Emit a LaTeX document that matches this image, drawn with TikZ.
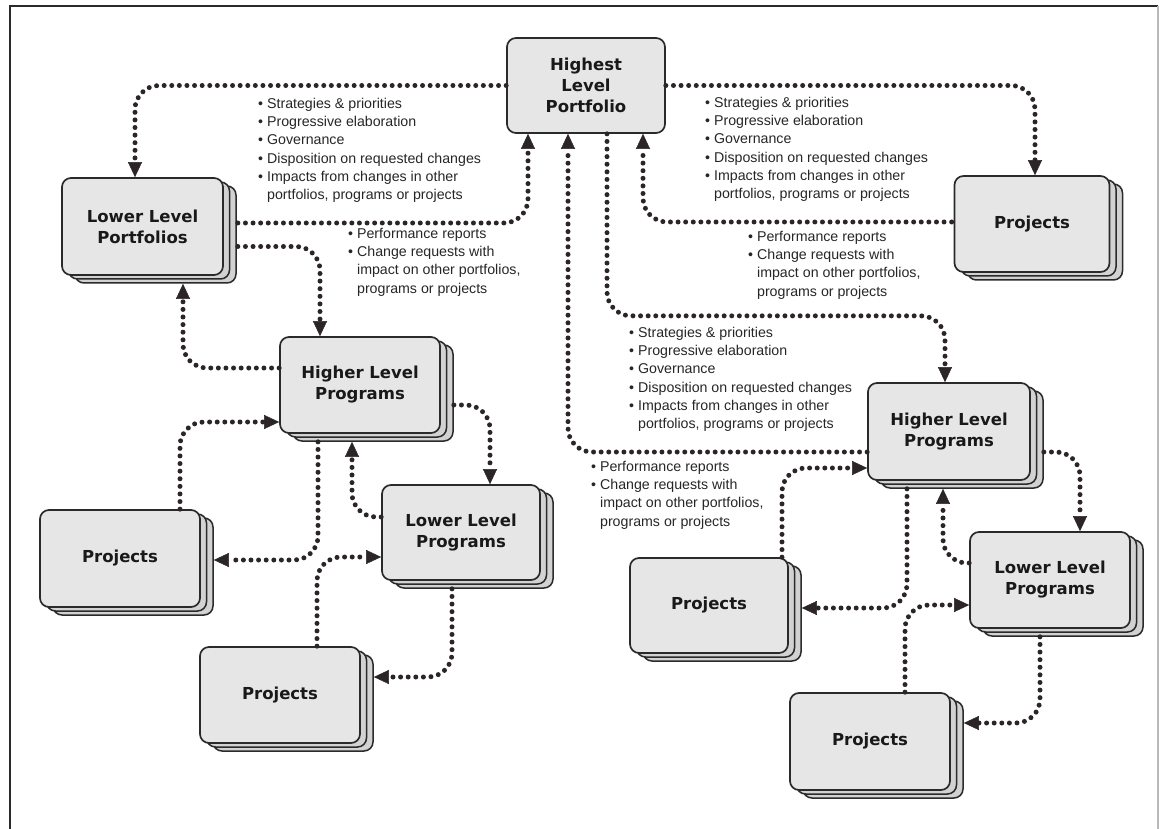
\documentclass[tikz,border=0pt]{standalone}
\usepackage{fontspec}
\setmainfont{Liberation Sans}
\newfontfamily\boxfont{DejaVu Sans}
\usetikzlibrary{arrows.meta,shadows}
\definecolor{ink}{HTML}{2B2528}
\definecolor{boxfill}{HTML}{E6E6E6}
\definecolor{backfill}{HTML}{D2D2D2}
\definecolor{edge}{HTML}{2A2A2A}
\definecolor{txtcol}{HTML}{262626}
\newcommand\bul{\textbullet\ }
\newcommand\ind{\phantom{\textbullet\ }}
\begin{document}
\begin{tikzpicture}[x=1pt,y=-1pt,
  card/.style={rectangle, rounded corners=9pt, draw=edge, line width=1.7pt, fill=boxfill,
    minimum width=160pt, minimum height=96pt, inner sep=0pt, align=center,
    font=\boxfont\bfseries\fontsize{16.5}{21}\selectfont, text=black!90},
  stack/.style={card, double copy shadow={shadow xshift=6.5pt, shadow yshift=-4pt,
    fill=backfill, draw=edge, line width=1.5pt}},
  conn/.style={draw=ink, line width=5pt, line cap=round, dash pattern=on 0pt off 7.6pt,
    rounded corners=24pt, -{Triangle[length=15pt,width=14pt,line width=0.4pt]}},
  txt/.style={font=\fontsize{14.2}{18.2}\selectfont, align=left, inner sep=0pt,
    anchor=north west, text=txtcol}]
\useasboundingbox (0,0) rectangle (1160,829);
% frame
\draw[edge, line width=1.8pt] (10,829) -- (10,6) -- (1158,6);
\draw[gray!55, line width=1.2pt] (1158,6) -- (1158,829);

% boxes
\node[card, minimum width=158pt, minimum height=95pt] (hport) at (586,85.5) {Highest\\Level\\Portfolio};
\node[stack, minimum width=161pt, minimum height=97pt] (lport) at (142.5,226.5) {Lower Level\\Portfolios};
\node[stack, minimum width=155pt] (projTR) at (1032,224) {Projects};
\node[stack] (hprogL) at (360,385) {Higher Level\\Programs};
\node[stack, minimum width=158pt, minimum height=95pt] (lprogL) at (461,532.5) {Lower Level\\Programs};
\node[stack, minimum height=97pt] (projL1) at (120,558.5) {Projects};
\node[stack] (projL2) at (280,695) {Projects};
\node[stack, minimum width=162pt, minimum height=97pt] (hprogR) at (949,431.5) {Higher Level\\Programs};
\node[stack] (lprogR) at (1050,580) {Lower Level\\Programs};
\node[stack, minimum width=158pt, minimum height=95pt] (projR1) at (709,605.5) {Projects};
\node[stack, minimum height=97pt] (projR2) at (870,741.5) {Projects};

% top level connectors
\draw[conn] (hport.west) -| ([xshift=-7.5pt]lport.north);
\draw[conn] (hport.east) -| ([xshift=3pt]projTR.north);
\draw[conn] ([xshift=14pt,yshift=3.5pt]lport.east) -| ([xshift=-58pt]hport.south);
\draw[conn] ([xshift=-2pt,yshift=2pt]projTR.west) -| ([xshift=57pt]hport.south);
\draw[conn] ([xshift=21pt]hport.south) -- ++(0,182) -| ([xshift=-4pt]hprogR.north);
\draw[conn] ([yshift=-20.5pt]hprogR.west) -| ([xshift=-18pt]hport.south);

% left cluster
\draw[conn] ([xshift=14pt,yshift=-20pt]lport.east) -| ([xshift=-40pt]hprogL.north);
\draw[conn] ([yshift=17pt]hprogL.west) -| ([xshift=40.5pt,yshift=-8pt]lport.south);
\draw[conn] ([xshift=60pt]projL1.north) |- ([yshift=-37pt]hprogL.west);
\draw[conn] ([xshift=-42pt,yshift=-8pt]hprogL.south) |- ([xshift=13pt,yshift=-1.5pt]projL1.east);
\draw[conn] ([xshift=13pt,yshift=-20pt]hprogL.east) -| ([xshift=29pt]lprogL.north);
\draw[conn] ([yshift=15.5pt]lprogL.west) -| ([xshift=-8pt,yshift=-8pt]hprogL.south);
\draw[conn] ([xshift=37pt]projL2.north) |- ([yshift=-24.5pt]lprogL.west);
\draw[conn] ([xshift=-9pt,yshift=-8pt]lprogL.south) |- ([xshift=13pt,yshift=18pt]projL2.east);

% right cluster
\draw[conn] ([xshift=73pt]projR1.north) |- ([yshift=-36.5pt]hprogR.west);
\draw[conn] ([xshift=-42pt,yshift=-8pt]hprogR.south) |- ([xshift=13pt,yshift=-2.5pt]projR1.east);
\draw[conn] ([xshift=13pt,yshift=-20.5pt]hprogR.east) -| ([xshift=30pt]lprogR.north);
\draw[conn] ([yshift=17pt]lprogR.west) -| ([xshift=-6pt,yshift=-8pt]hprogR.south);
\draw[conn] ([xshift=35pt]projR2.north) |- ([yshift=-25pt]lprogR.west);
\draw[conn] ([xshift=-10pt,yshift=-8pt]lprogR.south) |- ([xshift=13pt,yshift=18.5pt]projR2.east);

% text blocks
\node[txt] (tl) at (258,98) {\bul Strategies \& priorities\\\bul Progressive elaboration\\\bul Governance\\\bul Disposition on requested changes\\\bul Impacts from changes in other\\\ind portfolios, programs or projects};
\node[txt] (tr) at (705,97) {\bul Strategies \& priorities\\\bul Progressive elaboration\\\bul Governance\\\bul Disposition on requested changes\\\bul Impacts from changes in other\\\ind portfolios, programs or projects};
\node[txt] (tm) at (629,327) {\bul Strategies \& priorities\\\bul Progressive elaboration\\\bul Governance\\\bul Disposition on requested changes\\\bul Impacts from changes in other\\\ind portfolios, programs or projects};
\node[txt] (pl) at (348,228) {\bul Performance reports\\\bul Change requests with\\\ind impact on other portfolios,\\\ind programs or projects};
\node[txt] (pr) at (748,231) {\bul Performance reports\\\bul Change requests with\\\ind impact on other portfolios,\\\ind programs or projects};
\node[txt] (pm) at (591,461) {\bul Performance reports\\\bul Change requests with\\\ind impact on other portfolios,\\\ind programs or projects};
\end{tikzpicture}
\end{document}
